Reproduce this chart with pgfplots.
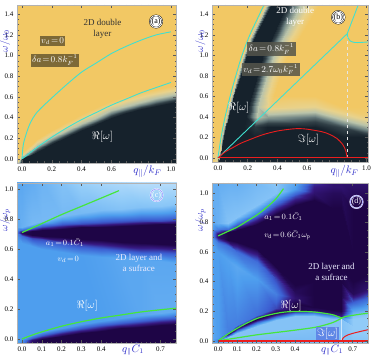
\documentclass[border=0pt]{standalone}
\usepackage{pgfplots}
\pgfplotsset{compat=1.18}
\usepackage{fontspec}
\setmainfont{Liberation Serif}

\definecolor{cyanl}{RGB}{64,224,208}
\definecolor{redl}{RGB}{235,30,30}
\definecolor{greenl}{RGB}{70,230,60}
\definecolor{lblue}{RGB}{45,45,200}
\definecolor{boxa}{RGB}{125,105,55}
\definecolor{boxb}{RGB}{85,85,75}
\definecolor{boxd}{RGB}{95,135,230}

\tikzset{lbl/.style={font=\fontsize{9}{11}\selectfont}}
\pgfplotsset{
  colormap={gold}{rgb255(0cm)=(242,200,100) rgb255(5cm)=(232,210,140) rgb255(10cm)=(185,195,170) rgb255(14cm)=(110,130,130) rgb255(17cm)=(50,65,72) rgb255(20cm)=(22,34,44)},
  colormap={sea}{rgb255(0cm)=(220,238,252) rgb255(5cm)=(145,203,248) rgb255(10cm)=(78,158,238) rgb255(14cm)=(60,95,210) rgb255(17cm)=(55,25,130) rgb255(20cm)=(30,5,70)},
  panel/.style={scale only axis, axis on top, anchor=south west,
    tick align=inside, minor tick num=3,
    major tick length=3pt, minor tick length=1.5pt,
    every tick/.style={gray!70!black, line width=0.4pt},
    axis line style={gray!60, line width=0.5pt},
    tick label style={font=\fontsize{7}{8}\selectfont},
    point meta min=0, point meta max=1,
    ylabel style={at={(axis description cs:-0.075,0.77)}, anchor=center,
      font=\fontsize{10}{10}\selectfont, text=lblue},
    xlabel style={anchor=center, font=\fontsize{11}{11}\selectfont, text=lblue},
  },
  topx/.style={xtick={0,0.2,0.4,0.6,1}, xticklabels={0.0,0.2,0.4,0.6,1.0},
    minor xtick={0.05,0.1,0.15,0.25,0.3,0.35,0.45,0.5,0.55,0.65,0.7,0.75,0.8,0.85,0.9,0.95}},
  botx/.style={xtick={0,0.1,0.2,0.3,0.4,0.7}, xticklabels={0.0,0.1,0.2,0.3,0.4,0.7},
    minor xtick={0.025,0.05,0.075,0.125,0.15,0.175,0.225,0.25,0.275,0.325,0.35,0.375,0.425,0.45,0.475,0.5,0.525,0.55,0.575,0.6,0.625,0.65,0.675,0.725,0.75,0.775}},
  heat/.style={surf, shader=interp, point meta=explicit},
}

\begin{document}
\begin{tikzpicture}

% (a)
\begin{axis}[panel, topx, at={(17pt,198pt)}, width=159pt, height=158pt,
  xmin=-0.034, xmax=1.034, ymin=-0.04, ymax=1.49,
  ytick={0,0.2,0.4,0.6,0.8,1.0,1.2,1.4}, yticklabels={0.0,0.2,0.4,0.6,0.8,1.0,1.2,1.4},
  colormap name=gold,
  xlabel={$q_{\parallel}/k_F$}, xlabel style={at={(axis description cs:0.82,-0.055)}},
  ylabel={$\omega/\omega_0$}]
\addplot[heat, mesh/cols=5] table[x=x, y=y, meta=c, row sep=\\] {
x y c\\
-0.034 -0.05 0.3\\ -0.034 -0.04 0.2\\ -0.034 -0.02 0.1\\ -0.034 0.0 0\\ -0.034 1.49 0\\
0 -0.05 1\\ 0 0.0 1\\ 0 0.02 0.55\\ 0 0.06 0\\ 0 1.49 0\\
0.1 -0.05 1\\ 0.1 0.07 1\\ 0.1 0.12 0.55\\ 0.1 0.19 0\\ 0.1 1.49 0\\
0.2 -0.05 1\\ 0.2 0.14 1\\ 0.2 0.20 0.55\\ 0.2 0.28 0\\ 0.2 1.49 0\\
0.3 -0.05 1\\ 0.3 0.21 1\\ 0.3 0.27 0.55\\ 0.3 0.36 0\\ 0.3 1.49 0\\
0.4 -0.05 1\\ 0.4 0.28 1\\ 0.4 0.34 0.55\\ 0.4 0.43 0\\ 0.4 1.49 0\\
0.5 -0.05 1\\ 0.5 0.34 1\\ 0.5 0.40 0.55\\ 0.5 0.50 0\\ 0.5 1.49 0\\
0.6 -0.05 1\\ 0.6 0.40 1\\ 0.6 0.46 0.55\\ 0.6 0.56 0\\ 0.6 1.49 0\\
0.7 -0.05 1\\ 0.7 0.44 1\\ 0.7 0.50 0.55\\ 0.7 0.61 0\\ 0.7 1.49 0\\
0.8 -0.05 1\\ 0.8 0.48 1\\ 0.8 0.54 0.55\\ 0.8 0.65 0\\ 0.8 1.49 0\\
0.9 -0.05 1\\ 0.9 0.51 1\\ 0.9 0.575 0.55\\ 0.9 0.68 0\\ 0.9 1.49 0\\
1.034 -0.05 1\\ 1.034 0.55 1\\ 1.034 0.615 0.55\\ 1.034 0.72 0\\ 1.034 1.49 0\\
};
\addplot[cyanl, line width=0.9pt, smooth] coordinates {(0,0) (0.01,0.15) (0.05,0.33) (0.1,0.45) (0.2,0.59) (0.3,0.72) (0.4,0.84) (0.5,0.93) (0.6,1.02) (0.7,1.09) (0.8,1.15) (0.9,1.2) (1.0,1.23)};
\addplot[cyanl, line width=0.9pt, smooth] coordinates {(0,0) (0.1,0.11) (0.2,0.21) (0.3,0.30) (0.4,0.38) (0.5,0.45) (0.6,0.52) (0.7,0.58) (0.8,0.64) (0.9,0.69) (1.0,0.74)};
\node[lbl, fill=boxa, text=white, inner sep=1.5pt] at (0.205,1.14) {$v_d\!=\!0$};
\node[lbl, fill=boxa, text=white, inner sep=1.5pt] at (0.22,0.955) {$\delta a\!=\!0.8k_F^{-1}$};
\node[lbl, align=center, text=black!80] at (0.54,1.26) {2D double\\layer};
\node[text=white, font=\fontsize{11}{12}\selectfont] at (0.54,0.21) {$\Re[\omega]$};
\node[circle, draw=black, double, double distance=0.7pt, fill=white, inner sep=0.3pt, font=\fontsize{8}{8}\selectfont] at (0.9,1.33) {(a)};
\end{axis}

% (b)
\begin{axis}[panel, topx, at={(212pt,199pt)}, width=156pt, height=157pt,
  xmin=-0.04, xmax=1.01, ymin=-0.04, ymax=1.49,
  ytick={0,0.2,0.4,0.6,0.8,1.0,1.2,1.4}, yticklabels={0.0,0.2,0.4,0.6,0.8,1.0,1.2,1.4},
  colormap name=gold,
  xlabel={$q_{\parallel}/k_F$}, xlabel style={at={(axis description cs:0.85,-0.06)}},
  ylabel={$\omega/\omega_0$}]
\addplot[heat, mesh/cols=10] table[x=x, y=y, meta=c, row sep=\\] {
x y c\\
-0.04 -0.05 0\\ 0 -0.05 0.4\\ 0.005 -0.05 0.8\\ 0.01 -0.05 1\\ 0.12 -0.05 1\\ 0.2 -0.05 1\\ 0.3 -0.05 1\\ 0.65 -0.05 1\\ 0.85 -0.05 1\\ 1.01 -0.05 1\\
-0.04 0.1 0\\ 0.011 0.1 0.1\\ 0.018 0.1 0.5\\ 0.028 0.1 1\\ 0.14 0.1 1\\ 0.22 0.1 1\\ 0.31 0.1 1\\ 0.65 0.1 1\\ 0.85 0.1 1\\ 1.01 0.1 1\\
-0.04 0.2 0\\ 0.022 0.2 0\\ 0.03 0.2 0.5\\ 0.04 0.2 1\\ 0.16 0.2 1\\ 0.24 0.2 1\\ 0.32 0.2 1\\ 0.65 0.2 1\\ 0.85 0.2 1\\ 1.01 0.2 1\\
-0.04 0.3 0\\ 0.034 0.3 0\\ 0.044 0.3 0.5\\ 0.057 0.3 1\\ 0.175 0.3 1\\ 0.25 0.3 0.9\\ 0.33 0.3 1\\ 0.65 0.3 1\\ 0.85 0.3 0.82\\ 1.01 0.3 0.55\\
-0.04 0.4 0\\ 0.048 0.4 0\\ 0.058 0.4 0.5\\ 0.072 0.4 1\\ 0.19 0.4 1\\ 0.26 0.4 0.5\\ 0.34 0.4 0.62\\ 0.65 0.4 0.73\\ 0.85 0.4 0.37\\ 1.01 0.4 0.13\\
-0.04 0.5 0\\ 0.065 0.5 0\\ 0.075 0.5 0.5\\ 0.091 0.5 1\\ 0.205 0.5 1\\ 0.27 0.5 0.5\\ 0.35 0.5 0.18\\ 0.65 0.5 0.27\\ 0.85 0.5 0\\ 1.01 0.5 0\\
-0.04 0.6 0\\ 0.082 0.6 0\\ 0.092 0.6 0.5\\ 0.11 0.6 1\\ 0.22 0.6 1\\ 0.29 0.6 0.5\\ 0.38 0.6 0\\ 0.65 0.6 0\\ 0.85 0.6 0\\ 1.01 0.6 0\\
-0.04 0.8 0\\ 0.12 0.8 0\\ 0.133 0.8 0.5\\ 0.152 0.8 1\\ 0.26 0.8 1\\ 0.33 0.8 0.5\\ 0.42 0.8 0\\ 0.65 0.8 0\\ 0.85 0.8 0\\ 1.01 0.8 0\\
-0.04 1.0 0\\ 0.162 1.0 0\\ 0.175 1.0 0.5\\ 0.195 1.0 1\\ 0.30 1.0 1\\ 0.38 1.0 0.5\\ 0.47 1.0 0\\ 0.65 1.0 0\\ 0.85 1.0 0\\ 1.01 1.0 0\\
-0.04 1.2 0\\ 0.215 1.2 0\\ 0.232 1.2 0.5\\ 0.255 1.2 1\\ 0.37 1.2 1\\ 0.45 1.2 0.5\\ 0.56 1.2 0\\ 0.65 1.2 0\\ 0.85 1.2 0\\ 1.01 1.2 0\\
-0.04 1.49 0\\ 0.31 1.49 0\\ 0.33 1.49 0.5\\ 0.36 1.49 1\\ 0.46 1.49 1\\ 0.56 1.49 0.5\\ 0.68 1.49 0\\ 0.75 1.49 0\\ 0.88 1.49 0\\ 1.01 1.49 0\\
};
\addplot[white!80!gray, dashed, line width=0.5pt] coordinates {(0.87,0) (0.87,1.21)};
\addplot[cyanl, line width=0.9pt, smooth] coordinates {(0,0) (0.021,0.2) (0.048,0.4) (0.082,0.6) (0.12,0.8) (0.162,1.0) (0.215,1.2) (0.28,1.4) (0.31,1.49)};
\addplot[cyanl, line width=0.9pt] coordinates {(0,0) (0.87,1.21) (0.944,1.49)};
\addplot[cyanl, line width=0.9pt, smooth] coordinates {(0.87,1.21) (0.875,1.17) (0.89,1.14) (0.92,1.125) (0.96,1.125) (1.01,1.13)};
\addplot[redl, line width=0.9pt, smooth] coordinates {(0,0) (0.05,0.06) (0.1,0.1) (0.15,0.14) (0.2,0.17) (0.3,0.225) (0.4,0.262) (0.5,0.282) (0.55,0.285) (0.6,0.28) (0.7,0.255) (0.75,0.23) (0.8,0.19) (0.84,0.13) (0.86,0.07) (0.87,0.0)};
\addplot[redl, line width=1.2pt] coordinates {(0,0.003) (1.01,0.003)};
\node[lbl, fill=boxb, fill opacity=0.85, text opacity=1, text=white, inner sep=1.5pt] at (0.36,1.06) {$\delta a\!=\!0.8k_F^{-1}$};
\node[lbl, fill=boxb, fill opacity=0.85, text opacity=1, text=white, inner sep=1.5pt] at (0.355,0.86) {$v_d\!=\!2.7\omega_0k_F^{-1}$};
\node[lbl, align=center, text=white] at (0.52,1.375) {2D double\\layer};
\node[text=white, font=\fontsize{11}{12}\selectfont] at (0.14,0.49) {$\Re[\omega]$};
\node[text=white, font=\fontsize{11}{12}\selectfont] at (0.61,0.18) {$\Im[\omega]$};
\node[circle, draw=black, double, double distance=0.7pt, fill=white, inner sep=0.3pt, font=\fontsize{8}{8}\selectfont] at (0.81,1.37) {(b)};
\end{axis}

% (c)
\begin{axis}[panel, botx, at={(17pt,18pt)}, width=159pt, height=160pt,
  xmin=-0.025, xmax=0.778, ymin=-0.027, ymax=1.041,
  ytick={0,0.2,0.4,0.6,0.8,1.0}, yticklabels={0.0,0.2,0.4,0.6,0.8,1.0},
  colormap name=sea,
  xlabel={$q_{\parallel}\bar{C}_1$}, xlabel style={at={(axis description cs:0.73,-0.04)}, font=\fontsize{10.5}{11}\selectfont},
  ylabel={$\omega/\omega_p$}]
\addplot[heat, mesh/cols=11] table[x=x, y=y, meta=c, row sep=\\] {
x y c\\
-0.025 -0.03 0.5\\ -0.025 -0.025 0.5\\ -0.025 -0.02 0.5\\ -0.025 -0.015 0.5\\ -0.025 0.64 0.5\\ -0.025 0.69 0.55\\ -0.025 0.705 0.6\\ -0.025 0.715 0.6\\ -0.025 0.725 0.55\\ -0.025 0.75 0.45\\ -0.025 1.045 0.45\\
0 -0.03 0.6\\ 0 -0.02 0.55\\ 0 -0.01 0.5\\ 0 0.0 0.5\\ 0 0.64 0.5\\ 0 0.69 0.65\\ 0 0.705 0.95\\ 0 0.715 0.95\\ 0 0.725 0.65\\ 0 0.75 0.4\\ 0 1.045 0.45\\
0.05 -0.03 0.95\\ 0.05 -0.01 0.9\\ 0.05 0.005 0.7\\ 0.05 0.025 0.5\\ 0.05 0.62 0.5\\ 0.05 0.675 0.75\\ 0.05 0.695 1\\ 0.05 0.72 1\\ 0.05 0.735 0.75\\ 0.05 0.77 0.35\\ 0.05 1.045 0.42\\
0.1 -0.03 1\\ 0.1 0.0 1\\ 0.1 0.02 0.75\\ 0.1 0.045 0.5\\ 0.1 0.6 0.5\\ 0.1 0.665 0.75\\ 0.1 0.69 1\\ 0.1 0.725 1\\ 0.1 0.745 0.75\\ 0.1 0.79 0.35\\ 0.1 1.045 0.38\\
0.2 -0.03 1\\ 0.2 0.02 1\\ 0.2 0.045 0.75\\ 0.2 0.075 0.5\\ 0.2 0.58 0.5\\ 0.2 0.645 0.75\\ 0.2 0.68 1\\ 0.2 0.735 1\\ 0.2 0.76 0.75\\ 0.2 0.82 0.35\\ 0.2 1.045 0.3\\
0.3 -0.03 1\\ 0.3 0.04 1\\ 0.3 0.065 0.75\\ 0.3 0.1 0.5\\ 0.3 0.56 0.5\\ 0.3 0.63 0.75\\ 0.3 0.67 1\\ 0.3 0.745 1\\ 0.3 0.77 0.75\\ 0.3 0.84 0.35\\ 0.3 1.045 0.22\\
0.4 -0.03 1\\ 0.4 0.055 1\\ 0.4 0.085 0.75\\ 0.4 0.12 0.5\\ 0.4 0.55 0.48\\ 0.4 0.615 0.75\\ 0.4 0.66 1\\ 0.4 0.75 1\\ 0.4 0.775 0.75\\ 0.4 0.86 0.33\\ 0.4 1.045 0.18\\
0.5 -0.03 1\\ 0.5 0.07 1\\ 0.5 0.1 0.75\\ 0.5 0.14 0.48\\ 0.5 0.54 0.45\\ 0.5 0.6 0.75\\ 0.5 0.65 1\\ 0.5 0.755 1\\ 0.5 0.78 0.75\\ 0.5 0.87 0.3\\ 0.5 1.045 0.15\\
0.6 -0.03 1\\ 0.6 0.08 1\\ 0.6 0.115 0.75\\ 0.6 0.16 0.45\\ 0.6 0.53 0.45\\ 0.6 0.59 0.75\\ 0.6 0.64 1\\ 0.6 0.76 1\\ 0.6 0.785 0.75\\ 0.6 0.88 0.3\\ 0.6 1.045 0.12\\
0.7 -0.03 1\\ 0.7 0.09 1\\ 0.7 0.125 0.75\\ 0.7 0.175 0.42\\ 0.7 0.52 0.45\\ 0.7 0.585 0.75\\ 0.7 0.635 1\\ 0.7 0.765 1\\ 0.7 0.79 0.75\\ 0.7 0.89 0.28\\ 0.7 1.045 0.12\\
0.778 -0.03 1\\ 0.778 0.1 1\\ 0.778 0.135 0.75\\ 0.778 0.185 0.42\\ 0.778 0.51 0.45\\ 0.778 0.58 0.75\\ 0.778 0.63 1\\ 0.778 0.77 1\\ 0.778 0.795 0.75\\ 0.778 0.9 0.28\\ 0.778 1.045 0.12\\
};
\addplot[greenl, line width=1.2pt, smooth] coordinates {(0,0.71) (0.1,0.77) (0.2,0.83) (0.3,0.885) (0.4,0.94) (0.49,0.99)};
\addplot[greenl, line width=1.2pt, smooth] coordinates {(0,0) (0.05,0.025) (0.1,0.047) (0.2,0.085) (0.3,0.115) (0.4,0.14) (0.5,0.16) (0.6,0.18) (0.7,0.195) (0.778,0.205)};
\node[text=white, inner sep=0.3pt, font=\fontsize{8.5}{10}\selectfont] at (0.217,0.645) {$a_1\!=\!0.1\bar{C}_1$};
\node[text=white, inner sep=0.3pt, font=\fontsize{8.5}{10}\selectfont] at (0.234,0.53) {$v_d\!=\!0$};
\node[lbl, align=center, text=white!92!blue] at (0.59,0.505) {2D layer and\\a sufrace};
\node[text=white, font=\fontsize{11}{12}\selectfont] at (0.33,0.22) {$\Re[\omega]$};
\node[circle, draw=white, double=blue!40, double distance=0.6pt, text=white, inner sep=0.3pt, font=\fontsize{8}{8}\selectfont] at (0.68,0.96) {(c)};
\end{axis}

% (d)
\begin{axis}[panel, botx, at={(212pt,18pt)}, width=156pt, height=160pt,
  xmin=-0.032, xmax=0.78, ymin=-0.015, ymax=1.068,
  ytick={0,0.2,0.4,0.6,0.8,1.0}, yticklabels={0.0,0.2,0.4,0.6,0.8,1.0},
  colormap name=sea,
  xlabel={$q_{\parallel}\bar{C}_1$}, xlabel style={at={(axis description cs:0.77,-0.04)}, font=\fontsize{10.5}{11}\selectfont},
  ylabel={$\omega/\omega_p$}]
\addplot[heat, mesh/cols=13] table[x=x, y=y, meta=c, row sep=\\] {
x y c\\
-0.032 -0.015 0.45\\ -0.032 -0.01 0.45\\ -0.032 -0.005 0.45\\ -0.032 0.0 0.45\\ -0.032 0.005 0.45\\ -0.032 0.01 0.45\\ -0.032 0.6 0.5\\ -0.032 0.66 0.5\\ -0.032 0.70 0.55\\ -0.032 0.72 0.55\\ -0.032 0.76 0.5\\ -0.032 0.8 0.45\\ -0.032 1.068 0.42\\
0 -0.015 0.45\\ 0 -0.005 0.5\\ 0 0.0 0.6\\ 0 0.005 0.6\\ 0 0.01 0.55\\ 0 0.02 0.5\\ 0 0.6 0.5\\ 0 0.66 0.6\\ 0 0.70 0.9\\ 0 0.72 0.9\\ 0 0.76 0.6\\ 0 0.8 0.4\\ 0 1.068 0.42\\
0.05 -0.015 0.35\\ 0.05 0.01 0.3\\ 0.05 0.025 0.3\\ 0.05 0.032 0.6\\ 0.05 0.045 0.95\\ 0.05 0.06 0.6\\ 0.05 0.55 0.48\\ 0.05 0.64 0.65\\ 0.05 0.685 1\\ 0.05 0.735 1\\ 0.05 0.76 0.65\\ 0.05 0.8 0.3\\ 0.05 1.068 0.4\\
0.1 -0.015 0.35\\ 0.1 0.02 0.3\\ 0.1 0.05 0.3\\ 0.1 0.065 0.6\\ 0.1 0.085 0.95\\ 0.1 0.11 0.6\\ 0.1 0.5 0.45\\ 0.1 0.6 0.65\\ 0.1 0.67 1\\ 0.1 0.75 1\\ 0.1 0.79 0.65\\ 0.1 0.84 0.3\\ 0.1 1.068 0.4\\
0.2 -0.015 0.35\\ 0.2 0.04 0.3\\ 0.2 0.1 0.3\\ 0.2 0.12 0.6\\ 0.2 0.145 1\\ 0.2 0.175 0.65\\ 0.2 0.42 0.5\\ 0.2 0.53 0.65\\ 0.2 0.62 1\\ 0.2 0.79 1\\ 0.2 0.85 0.65\\ 0.2 0.92 0.3\\ 0.2 1.068 0.35\\
0.3 -0.015 0.35\\ 0.3 0.055 0.3\\ 0.3 0.14 0.3\\ 0.3 0.16 0.65\\ 0.3 0.185 1\\ 0.3 0.22 0.75\\ 0.3 0.32 0.6\\ 0.3 0.42 0.75\\ 0.3 0.5 1\\ 0.3 0.86 1\\ 0.3 0.93 0.65\\ 0.3 1.0 0.3\\ 0.3 1.068 0.28\\
0.4 -0.015 0.35\\ 0.4 0.072 0.3\\ 0.4 0.17 0.3\\ 0.4 0.185 0.65\\ 0.4 0.21 1\\ 0.4 0.25 1\\ 0.4 0.29 0.9\\ 0.4 0.33 0.95\\ 0.4 0.38 1\\ 0.4 0.92 1\\ 0.4 0.98 0.75\\ 0.4 1.03 0.5\\ 0.4 1.068 0.45\\
0.5 -0.015 0.35\\ 0.5 0.09 0.3\\ 0.5 0.17 0.3\\ 0.5 0.185 0.6\\ 0.5 0.205 0.95\\ 0.5 0.23 1\\ 0.5 0.3 1\\ 0.5 0.4 1\\ 0.5 0.5 1\\ 0.5 0.95 1\\ 0.5 1.0 0.9\\ 0.5 1.04 0.85\\ 0.5 1.068 0.8\\
0.6 -0.015 0.3\\ 0.6 0.1 0.3\\ 0.6 0.15 0.3\\ 0.6 0.165 0.55\\ 0.6 0.18 0.9\\ 0.6 0.21 1\\ 0.6 0.3 1\\ 0.6 0.4 1\\ 0.6 0.5 1\\ 0.6 0.9 1\\ 0.6 1.0 0.95\\ 0.6 1.04 0.9\\ 0.6 1.068 0.9\\
0.64 -0.015 0.3\\ 0.64 0.1 0.3\\ 0.64 0.145 0.3\\ 0.64 0.155 0.5\\ 0.64 0.17 0.85\\ 0.64 0.2 1\\ 0.64 0.3 1\\ 0.64 0.4 1\\ 0.64 0.5 1\\ 0.64 0.9 1\\ 0.64 1.0 0.95\\ 0.64 1.04 0.9\\ 0.64 1.068 0.9\\
0.7 -0.015 0.3\\ 0.7 0.05 0.25\\ 0.7 0.1 0.25\\ 0.7 0.15 0.25\\ 0.7 0.17 0.3\\ 0.7 0.2 0.45\\ 0.7 0.26 0.7\\ 0.7 0.32 0.95\\ 0.7 0.4 1\\ 0.7 0.6 1\\ 0.7 0.9 1\\ 0.7 1.0 0.95\\ 0.7 1.068 0.9\\
0.78 -0.015 0.3\\ 0.78 0.05 0.25\\ 0.78 0.1 0.25\\ 0.78 0.16 0.25\\ 0.78 0.185 0.3\\ 0.78 0.21 0.4\\ 0.78 0.28 0.65\\ 0.78 0.35 0.9\\ 0.78 0.45 1\\ 0.78 0.6 1\\ 0.78 0.9 1\\ 0.78 1.0 0.95\\ 0.78 1.068 0.9\\
};
\addplot[white, opacity=0.6, line width=0.4pt] coordinates {(0.643,0) (0.643,0.153)};
\addplot[greenl, line width=1.2pt, smooth] coordinates {(0,0.71) (0.05,0.74) (0.1,0.77) (0.15,0.81) (0.2,0.85) (0.25,0.9) (0.3,0.96) (0.34,1.03)};
\addplot[greenl, line width=1.2pt, smooth] coordinates {(0,0) (0.05,0.045) (0.1,0.085) (0.15,0.12) (0.2,0.15) (0.25,0.17) (0.3,0.185) (0.35,0.195) (0.4,0.198) (0.45,0.198) (0.5,0.195) (0.55,0.187) (0.6,0.175) (0.643,0.153)};
\addplot[greenl, line width=1.2pt, smooth] coordinates {(0,0) (0.1,0.02) (0.2,0.04) (0.3,0.056) (0.4,0.072) (0.5,0.09) (0.55,0.105) (0.6,0.125) (0.643,0.153)};
\addplot[greenl, line width=1.2pt, smooth] coordinates {(0.643,0.153) (0.66,0.163) (0.7,0.172) (0.74,0.18) (0.78,0.186)};
\addplot[redl, line width=1.2pt] coordinates {(0,-0.002) (0.78,-0.002)};
\addplot[redl, line width=1pt, smooth] coordinates {(0.645,0) (0.65,0.018) (0.66,0.03) (0.68,0.042) (0.7,0.05) (0.74,0.063) (0.78,0.075)};
\node[text=white, inner sep=0.3pt, font=\fontsize{8.5}{10}\selectfont] at (0.34,0.84) {$a_1\!=\!0.1\bar{C}_1$};
\node[text=white, inner sep=0.3pt, font=\fontsize{8.5}{10}\selectfont] at (0.36,0.715) {$v_{\mathrm{d}}\!=\!0.6\bar{C}_1\omega_{\mathrm{p}}$};
\node[lbl, align=center, text=white!92!blue] at (0.59,0.465) {2D layer and\\a sufrace};
\node[text=white, font=\fontsize{11}{12}\selectfont] at (0.38,0.24) {$\Re[\omega]$};
\node[fill=boxd, text=white, inner sep=1pt, font=\fontsize{11}{12}\selectfont] at (0.57,0.05) {$\Im[\omega]$};
\node[circle, draw=white, double=blue!40, double distance=0.6pt, text=white, inner sep=0.3pt, font=\fontsize{8}{8}\selectfont] at (0.72,0.94) {(d)};
\end{axis}

\pgfresetboundingbox
\path (0pt,0pt) rectangle (374pt,361pt);
\end{tikzpicture}
\end{document}
